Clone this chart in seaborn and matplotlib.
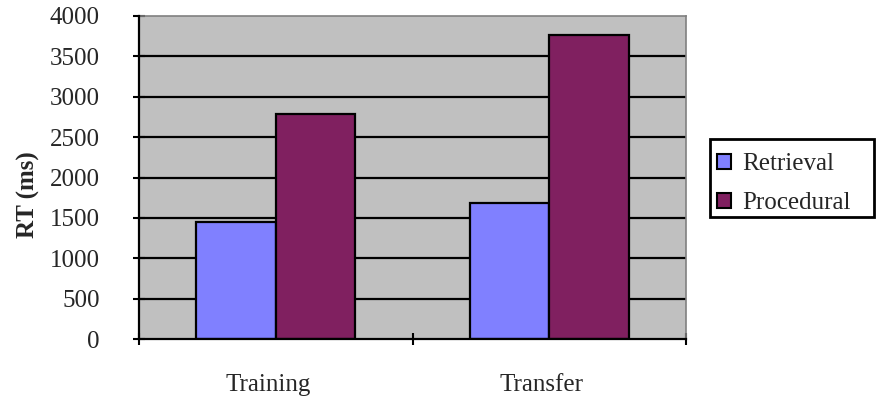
import matplotlib
matplotlib.use("Agg")
import matplotlib.pyplot as plt
import matplotlib.transforms as mtransforms
from matplotlib.patches import Rectangle
import seaborn as sns
import pandas as pd
from matplotlib.ticker import FixedLocator

# Mean response times per phase and strategy
phases = ["Training", "Transfer"]
strategies = ["Retrieval", "Procedural"]
retrieval_rt = [1450, 1690]
procedural_rt = [2790, 3760]
y_ticks = [0, 500, 1000, 1500, 2000, 2500, 3000, 3500, 4000]

df = pd.DataFrame({
    "Phase": phases * 2,
    "Strategy": [strategies[0]] * 2 + [strategies[1]] * 2,
    "RT": retrieval_rt + procedural_rt,
})

sns.set_theme(style="white")
plt.rcParams["font.family"] = ["Liberation Serif", "DejaVu Serif"]
FS = 18
W, H = 876, 396

fig = plt.figure(figsize=(W / 100, H / 100), dpi=100)
ax = fig.add_axes([139 / W, 1 - 339 / H, (686 - 139) / W, (339 - 16) / H])
ax.set_facecolor("#C0C0C0")

palette = {"Retrieval": "#8080FF", "Procedural": "#802060"}
sns.barplot(data=df, x="Phase", y="RT", hue="Strategy", order=phases,
            hue_order=strategies, palette=palette, width=0.58,
            edgecolor="black", linewidth=1.6, saturation=1, ax=ax,
            errorbar=None, zorder=3)

ax.set_xlim(-0.5, 1.5)
ax.set_ylim(0, 4000)
ax.set_yticks(y_ticks)
ax.set_yticklabels([str(v) for v in y_ticks], fontsize=FS)

# horizontal gridlines
for v in y_ticks[1:-1]:
    ax.axhline(v, color="black", linewidth=1.6, zorder=1)

# category labels centred, tick marks at group boundaries
ax.set_xticks([0, 1])
ax.set_xticklabels(phases, fontsize=FS)
ax.xaxis.set_minor_locator(FixedLocator([-0.5, 0.5, 1.5]))
ax.tick_params(axis="x", which="major", length=0, pad=25, bottom=True)
ax.tick_params(axis="x", which="minor", direction="inout", length=8.5,
               width=1.5, color="black", bottom=True)
ax.tick_params(axis="y", which="major", direction="inout", length=8.5,
               width=1.5, color="black", pad=24, left=True)

# nudge category labels slightly left
shift = mtransforms.ScaledTranslation(-8 / 100, 0, fig.dpi_scale_trans)
for lab in ax.get_xticklabels():
    lab.set_transform(lab.get_transform() + shift)

ax.set_xlabel("")
ax.set_ylabel("RT (ms)", fontsize=FS, fontweight="bold")
ax.yaxis.set_label_coords(-0.181, 0.446)

for side in ["left", "bottom"]:
    ax.spines[side].set_color("black")
    ax.spines[side].set_linewidth(1.6)
for side in ["top", "right"]:
    ax.spines[side].set_color("#808080")
    ax.spines[side].set_linewidth(1.2)
ax.spines["left"].set_zorder(5)
ax.spines["bottom"].set_zorder(5)

# legend entries with a separately drawn box around them
handles, labels = ax.get_legend_handles_labels()
ax.get_legend().remove()
leg = fig.legend(handles, labels, loc="upper left",
                 bbox_to_anchor=(717 / W, 1 - 153 / H),
                 fontsize=FS, frameon=False,
                 handlelength=0.55, handleheight=0.55,
                 handletextpad=0.45, borderpad=0, labelspacing=0.68,
                 borderaxespad=0)
for h in leg.legend_handles:
    h.set_edgecolor("black")
    h.set_linewidth(1.5)
fig.patches.append(Rectangle((710 / W, 1 - 217 / H), (874 - 710) / W,
                             (217 - 139) / H, transform=fig.transFigure,
                             fill=False, edgecolor="black", linewidth=2))

fig.savefig("out.png", dpi=100)
